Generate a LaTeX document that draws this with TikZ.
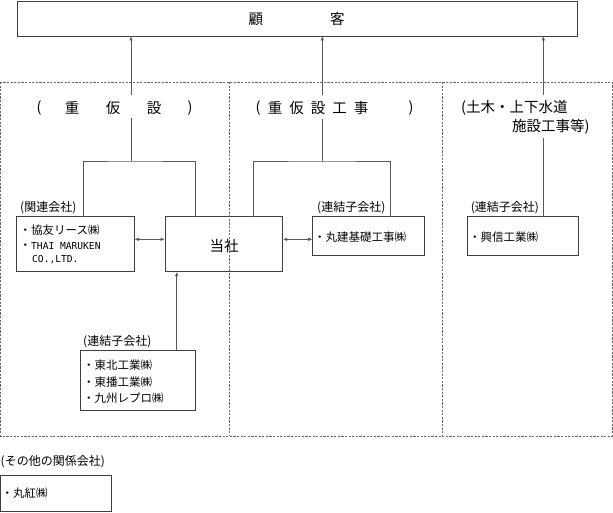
\documentclass[tikz,border=0pt]{standalone}
\usepackage{fontspec}
\setmainfont{Noto Sans CJK JP}
\newfontfamily\latinmono{DejaVu Sans Mono}
\usetikzlibrary{arrows.meta}
\tikzset{
  box/.style={draw=black!75, line width=0.9pt, inner sep=0pt, outer sep=0pt, anchor=north west},
  conn/.style={draw=black!65, line width=0.9pt},
  tip/.style={-{Latex[length=4.5pt,width=3.6pt]}},
  dtip/.style={{Latex[length=4.5pt,width=3.6pt]}-{Latex[length=4.5pt,width=3.6pt]}},
  frame/.style={draw=black!60, line width=0.8pt, dash pattern=on 2.2pt off 1.4pt},
  big/.style={inner sep=0pt, text=black, font=\fontsize{14.5pt}{16pt}\selectfont},
  lbl/.style={inner sep=0pt, anchor=west, text=black, font=\fontsize{12pt}{14pt}\selectfont},
  txt/.style={inner sep=0pt, anchor=west, text=black, font=\fontsize{11.5pt}{14pt}\selectfont}
}
\begin{document}
\begin{tikzpicture}[x=1pt,y=-1pt]
\useasboundingbox (0,0) rectangle (613,513);
% customer box
\node[box, minimum width=560pt, minimum height=35pt] (cust) at (17,1) {};
\node[big] (custt) at (296.5,19) {顧\hspace{67pt}客};
% dashed frame
\draw[frame] (0.5,82) rectangle (612,436);
\draw[frame] (229,82) -- (229,436);
\draw[frame] (442.5,82) -- (442.5,436);
% headings
\foreach \x/\c [count=\i] in {39/(,72/重,113/仮,154/設,190/)}
  \node[big] (hA\i) at (\x,108) {\c};
\foreach \x/\c [count=\i] in {258/(,275/重,296.5/仮,318/設,339.5/工,361/事,411/)}
  \node[big] (hB\i) at (\x,108) {\c};
\node[big, anchor=west] (hC1) at (461,108) {(土木・上下水道};
\node[big, anchor=west] (hC2) at (512,127) {施設工事等)};
% boxes
\node[box, minimum width=117.8pt, minimum height=55pt] (kanren) at (16.5,216.7) {};
\node[box, minimum width=117.7pt, minimum height=55pt] (toosha) at (165,216.7) {};
\node[box, minimum width=111.6pt, minimum height=38.3pt] (maruken) at (312.7,216.7) {};
\node[box, minimum width=111pt, minimum height=38.3pt] (kousin) at (467.3,216.7) {};
\node[box, minimum width=114.3pt, minimum height=60pt] (tohoku) at (80.7,350.7) {};
\node[box, minimum width=110.5pt, minimum height=36.7pt] (marubeni) at (0.5,475) {};
% labels
\node[lbl] (l1) at (20,208) {(関連会社)};
\node[lbl] (l2) at (317,208) {(連結子会社)};
\node[lbl] (l3) at (470.7,208) {(連結子会社)};
\node[lbl] (l4) at (83,341.7) {(連結子会社)};
\node[lbl] (l5) at (0.5,461.7) {(その他の関係会社)};
% box texts
\node[txt] (k1) at (19.5,230) {・協友リース㈱};
\node[txt] (k2) at (19.5,245.7) {・{\latinmono\fontsize{9.6pt}{12pt}\selectfont THAI MARUKEN}};
\node[txt] (k3) at (32,260) {\latinmono\fontsize{9.6pt}{12pt}\selectfont CO.,LTD.};
\node[big] (tt) at (224,246) {当社};
\node[txt] (m1) at (314,236.7) {・丸建基礎工事㈱};
\node[txt] (s1) at (469,236.7) {・興信工業㈱};
\node[txt] (t1) at (83,365) {・東北工業㈱};
\node[txt] (t2) at (83,381.7) {・東播工業㈱};
\node[txt] (t3) at (83,398.3) {・九州レプロ㈱};
\node[txt] (mb) at (1.5,493.3) {・丸紅㈱};
% arrows to customer
\coordinate (a1) at (131,95);
\coordinate (a2) at (322.3,95);
\coordinate (a3) at (543.3,95);
\draw[conn,tip] (a1) -- (a1 |- cust.south);
\draw[conn,tip] (a2) -- (a2 |- cust.south);
\draw[conn,tip] (a3) -- (a3 |- cust.south);
% group trees
\coordinate (g1) at (131,118);
\coordinate (j1) at (131,161);
\coordinate (b1l) at (83,0);
\coordinate (b1r) at (195,0);
\draw[conn] (g1) -- (j1);
\draw[conn] (kanren.north -| b1l) |- (j1) -| (toosha.north -| b1r);
\coordinate (g2) at (322.3,119);
\coordinate (j2) at (322.3,161);
\coordinate (b2l) at (253.3,0);
\coordinate (b2r) at (390.7,0);
\draw[conn] (g2) -- (j2);
\draw[conn] (toosha.north -| b2l) |- (j2) -| (maruken.north -| b2r);
\coordinate (g3) at (543.3,138);
\draw[conn] (g3) -- (g3 |- kousin.north);
% horizontal double arrows
\coordinate (ya) at (0,239.3);
\draw[conn,dtip] (kanren.east |- ya) -- (toosha.west |- ya);
\draw[conn,dtip] (toosha.east |- ya) -- (maruken.west |- ya);
% up arrow
\coordinate (ax) at (176.7,0);
\draw[conn,tip] (tohoku.north -| ax) -- (toosha.south -| ax);
\end{tikzpicture}
\end{document}
